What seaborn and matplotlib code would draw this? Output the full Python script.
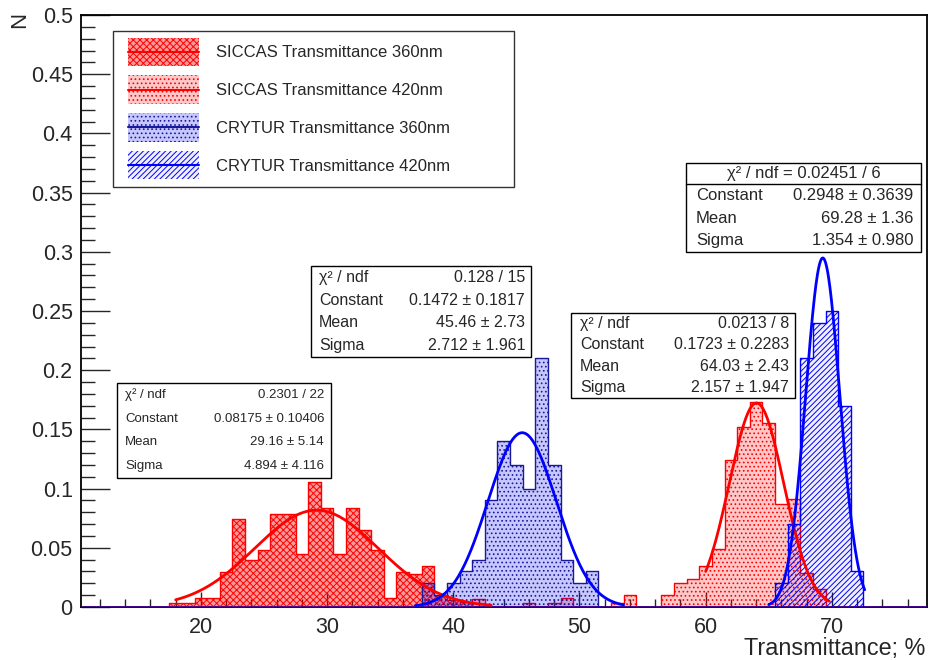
import numpy as np
import pandas as pd
import seaborn as sns
import matplotlib.pyplot as plt
import matplotlib.patches as mpatches
from matplotlib.lines import Line2D
from matplotlib.legend_handler import HandlerBase
from matplotlib.ticker import MultipleLocator, FuncFormatter
from matplotlib.colors import to_rgba

sns.set_style("white")
plt.rcParams['font.family'] = ['Liberation Sans', 'DejaVu Sans']
plt.rcParams['hatch.linewidth'] = 0.7

# histogram binning (1 % wide bins over the axis range)
bin_lo, bin_hi = 10.5, 77.5

# SICCAS 360nm (bin centres, normalised entries)
siccas360_x = [18, 19, 20, 21, 22, 23, 24, 25, 26, 27, 28, 29, 30, 31, 32, 33, 34, 35, 36, 37, 38, 39, 40, 41]
siccas360_y = [0.0034, 0.0034, 0.0076, 0.0076, 0.0296, 0.0746, 0.0394, 0.0479, 0.0788, 0.0788, 0.045, 0.1056,
               0.0839, 0.045, 0.0839, 0.0653, 0.0479, 0.0076, 0.0296, 0.028, 0.0345, 0.010, 0.006, 0.004]

# SICCAS 420nm
siccas420_x = [42, 46, 48, 49, 53, 54, 57, 58, 59, 60, 61, 62, 63, 64, 65, 66, 67, 68, 69]
siccas420_y = [0.007, 0.003, 0.003, 0.008, 0.003, 0.010, 0.010, 0.020, 0.024, 0.035, 0.049, 0.124, 0.152,
               0.173, 0.155, 0.087, 0.0915, 0.029, 0.015]

# CRYTUR 360nm
crytur360_x = [38, 39, 40, 41, 42, 43, 44, 45, 46, 47, 48, 49, 50, 51]
crytur360_y = [0.02, 0.01, 0.02, 0.03, 0.04, 0.09, 0.14, 0.12, 0.10, 0.21, 0.12, 0.04, 0.02, 0.03]

# CRYTUR 420nm
crytur420_x = [66, 67, 68, 69, 70, 71, 72]
crytur420_y = [0.02, 0.07, 0.21, 0.24, 0.25, 0.17, 0.03]

# gaussian fits: constant, mean, sigma, fit range
fit_const = [0.08175, 0.1723, 0.1472, 0.2948]
fit_mean = [29.16, 64.03, 45.46, 69.28]
fit_sigma = [4.894, 2.157, 2.712, 1.354]
fit_lo = [18.0, 60.0, 37.0, 65.0]
fit_hi = [43.0, 69.8, 53.5, 72.6]

labels = ["SICCAS Transmittance 360nm", "SICCAS Transmittance 420nm",
          "CRYTUR Transmittance 360nm", "CRYTUR Transmittance 420nm"]

# stats box texts
stats_rows = [
    [("χ² / ndf", "0.2301 / 22"), ("Constant", "0.08175 ± 0.10406"), ("Mean", "29.16 ± 5.14"), ("Sigma", "4.894 ± 4.116")],
    [("χ² / ndf", "0.0213 / 8"), ("Constant", "0.1723 ± 0.2283"), ("Mean", "64.03 ± 2.43"), ("Sigma", "2.157 ± 1.947")],
    [("χ² / ndf", "0.128 / 15"), ("Constant", "0.1472 ± 0.1817"), ("Mean", "45.46 ± 2.73"), ("Sigma", "2.712 ± 1.961")],
    [("Constant", "0.2948 ± 0.3639"), ("Mean", "69.28 ± 1.36"), ("Sigma", "1.354 ± 0.980")],
]
stats_title4 = "χ² / ndf = 0.02451 / 6"

W, H = 930, 660
def fx(x):
    return x / W
def fy(y):
    return 1 - y / H

RED = (1, 0, 0)
BLUE = (0, 0, 1)
NAVY = (0.1, 0.1, 0.6)

styles = [
    dict(facecolor=to_rgba(RED, 0.4), edgecolor=RED, hatch='xxxxx'),
    dict(facecolor=to_rgba(RED, 0.22), edgecolor=RED, hatch='....'),
    dict(facecolor=to_rgba(BLUE, 0.22), edgecolor=NAVY, hatch='....'),
    dict(facecolor=to_rgba(BLUE, 0.06), edgecolor=BLUE, hatch='//////'),
]
line_colors = [RED, RED, BLUE, BLUE]

fig = plt.figure(figsize=(9.3, 6.6), dpi=100)
ax = fig.add_axes([fx(81), fy(607), fx(926.5) - fx(81), fy(15) - fy(607)])

edges = list(np.arange(bin_lo, bin_hi + 0.5, 1.0))
series = [(siccas360_x, siccas360_y), (siccas420_x, siccas420_y),
          (crytur360_x, crytur360_y), (crytur420_x, crytur420_y)]
for (xs, ys), st in zip(series, styles):
    df = pd.DataFrame({"T": xs, "w": ys})
    sns.histplot(data=df, x="T", weights="w", bins=edges, element="step", fill=True,
                 ax=ax, linewidth=1.0, zorder=3, **st)

for i in range(4):
    xx = np.linspace(fit_lo[i], fit_hi[i], 200)
    yy = fit_const[i] * np.exp(-0.5 * ((xx - fit_mean[i]) / fit_sigma[i]) ** 2)
    sns.lineplot(x=xx, y=yy, ax=ax, color=line_colors[i], linewidth=2.0, zorder=4)

ax.set_xlim(bin_lo, bin_hi)
ax.set_ylim(0, 0.5)
ax.xaxis.set_major_locator(MultipleLocator(10))
ax.xaxis.set_minor_locator(MultipleLocator(2))
ax.yaxis.set_major_locator(MultipleLocator(0.05))
ax.yaxis.set_minor_locator(MultipleLocator(0.01))
ax.yaxis.set_major_formatter(FuncFormatter(lambda v, p: "%g" % round(v, 3)))
ax.tick_params(axis='x', which='major', direction='in', length=11, width=1, labelsize=15.5, pad=7,
               top=False, bottom=True)
ax.tick_params(axis='x', which='minor', direction='in', length=5.5, width=1, top=False, bottom=True)
ax.tick_params(axis='y', which='major', direction='in', length=21, width=1, labelsize=15.5, pad=6,
               left=True, right=False)
ax.tick_params(axis='y', which='minor', direction='in', length=10, width=1, left=True, right=False)
for s in ax.spines.values():
    s.set_linewidth(1.3)
    s.set_color('black')
ax.set_xlabel("")
ax.set_ylabel("")
fig.text(fx(925), fy(648), "Transmittance; %", ha='right', va='center', fontsize=16.8)
fig.text(fx(20), fy(12), "N", ha='center', va='top', rotation=90, fontsize=16)


class PatchLineHandler(HandlerBase):
    def create_artists(self, legend, orig_handle, xdescent, ydescent, width, height, fontsize, trans):
        x0 = -xdescent + 0.3 * fontsize
        w = width - 0.5 * fontsize
        h = 1.7 * fontsize
        y0 = -ydescent + height / 2 - h / 2
        r = mpatches.Rectangle((x0, y0), w, h, facecolor=orig_handle.get_facecolor(),
                               edgecolor=orig_handle.get_edgecolor(), linewidth=0,
                               hatch=orig_handle.get_hatch(), transform=trans)
        ln = Line2D([x0, x0 + w], [y0 + h / 2, y0 + h / 2], color=orig_handle.get_edgecolor(),
                    linewidth=1.5, transform=trans)
        return [r, ln]


handles = [mpatches.Patch(**st) for st in styles]
leg = ax.legend(handles, labels, loc='upper left', bbox_to_anchor=(fx(112.5), fy(30.5), fx(514) - fx(112.5), 0),
                bbox_transform=fig.transFigure, mode='expand', borderaxespad=0, borderpad=0.6,
                handlelength=4.8, handleheight=1.7, handletextpad=0.8, labelspacing=0.92,
                fontsize=12, frameon=True, fancybox=False, handler_map={mpatches.Patch: PatchLineHandler()})
leg.get_frame().set_edgecolor('black')
leg.get_frame().set_linewidth(1.0)
leg.set_zorder(6)


def stats_box(x0, y0, x1, y1, rows, fs, lpad, rpad, title=None):
    fig.add_artist(mpatches.Rectangle((fx(x0), fy(y1)), fx(x1) - fx(x0), fy(y0) - fy(y1),
                                      transform=fig.transFigure, facecolor='white',
                                      edgecolor='black', linewidth=1.0, zorder=6))
    top = y0
    if title is not None:
        th = (y1 - y0) / (len(rows) + 1) * 0.95
        fig.text(fx((x0 + x1) / 2), fy(y0 + th / 2), title, ha='center', va='center', fontsize=fs, zorder=7)
        fig.add_artist(Line2D([fx(x0), fx(x1)], [fy(y0 + th), fy(y0 + th)], transform=fig.transFigure,
                              color='black', linewidth=1.0, zorder=7))
        top = y0 + th
    rh = (y1 - top) / len(rows)
    for k, (lab, val) in enumerate(rows):
        yc = top + (k + 0.5) * rh
        fig.text(fx(x0 + lpad), fy(yc), lab, ha='left', va='center', fontsize=fs, zorder=7)
        fig.text(fx(x1 - rpad), fy(yc), val, ha='right', va='center', fontsize=fs, zorder=7)


stats_box(117, 383, 331, 478, stats_rows[0], 9.5, 8, 7)
stats_box(571, 313, 795, 398, stats_rows[1], 11.5, 9, 6)
stats_box(311, 266, 531, 357, stats_rows[2], 11.5, 8, 6)
stats_box(686, 163, 921, 252, stats_rows[3], 12, 10, 8, title=stats_title4)

fig.savefig("out.png", dpi=100)
